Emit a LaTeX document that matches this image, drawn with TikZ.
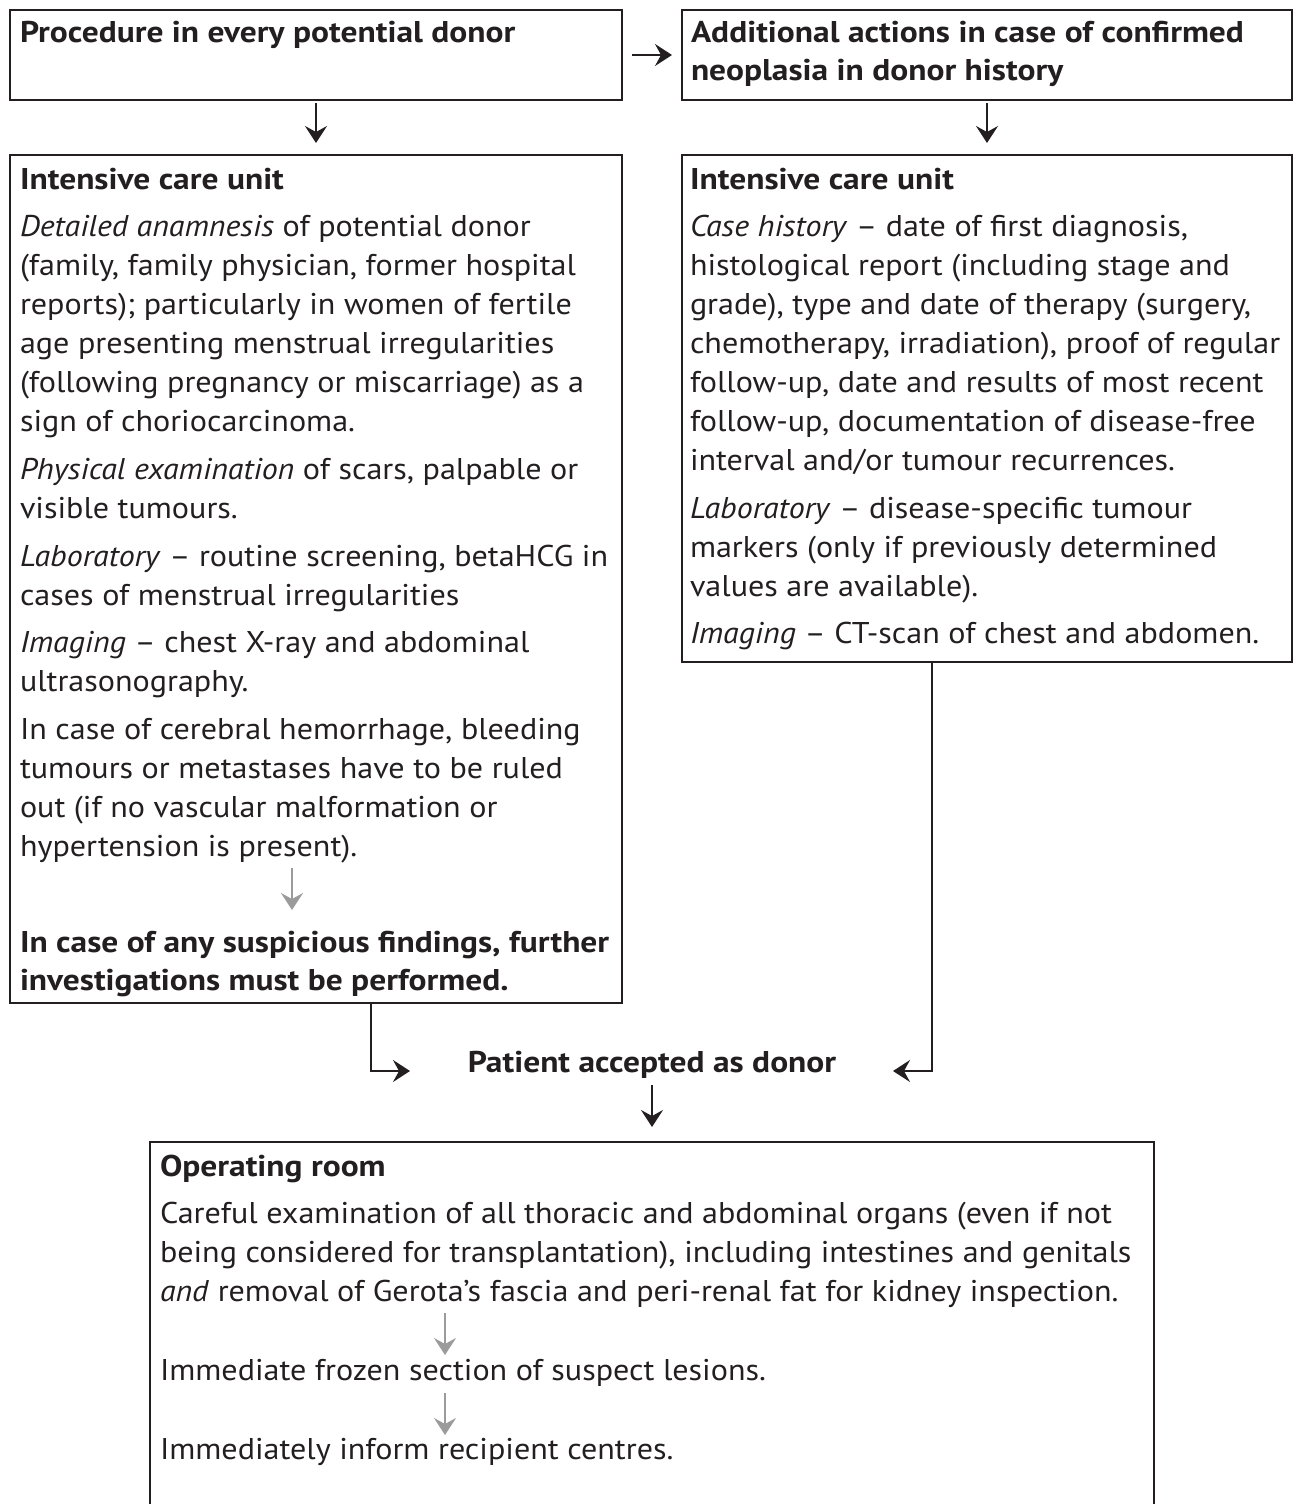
\documentclass[tikz,border=0pt]{standalone}
\usepackage{fontspec}
\setmainfont{PT Sans}[
  UprightFeatures={FakeStretch=1.07},
  ItalicFeatures={FakeStretch=1.065},
  BoldFeatures={FakeStretch=1.115}]
\usetikzlibrary{arrows.meta}
\definecolor{ink}{HTML}{231F20}
\definecolor{soft}{HTML}{9B9B9B}
% invisible rule giving every first line the same height above its baseline
\newcommand{\firstline}{\rule{0pt}{27pt}}
\begin{document}
\begin{tikzpicture}[x=1pt,y=-1pt,
  frame/.style={draw=ink, line width=2pt, anchor=north west, inner sep=0pt, outer sep=0pt},
  txt/.style={anchor=north west, inner sep=0pt, outer sep=0pt, align=left, text=ink,
    yshift=27pt, font=\fontsize{30}{39}\selectfont},
  head/.style={txt, font=\fontsize{30}{38}\selectfont\bfseries},
  arr/.style={draw=ink, line width=1.8pt, -{Stealth[length=17pt,width=22pt,inset=6pt]}},
  garr/.style={arr, draw=soft}]
\useasboundingbox (0,0) rectangle (1293,1504);
\clip (0,0) rectangle (1293,1504);

% frames
\node[frame, minimum width=612pt, minimum height=90pt]  (top1) at (10,10) {};
\node[frame, minimum width=610pt, minimum height=90pt]  (top2) at (682,10) {};
\node[frame, minimum width=612pt, minimum height=848pt] (icu1) at (10,155) {};
\node[frame, minimum width=610pt, minimum height=507pt] (icu2) at (682,155) {};
\node[frame, minimum width=1004pt, minimum height=420pt] (orbox) at (150,1142) {};

% top headings
\node[head] (t1) at (20,43) {\firstline Procedure in every potential donor};
\node[head] (t2) at (691,43) {\firstline Additional actions in case of confirmed\\neoplasia in donor history};

% left intensive care unit
\node[head] (h1) at (20,189) {\firstline Intensive care unit};
\node[txt] (l1) at (20,236) {\firstline\textit{Detailed anamnesis} of potential donor\\
(family, family physician, former hospital\\
reports); particularly in women of fertile\\
age presenting menstrual irregularities\\
(following pregnancy or miscarriage) as a\\
sign of choriocarcinoma.};
\node[txt] (l2) at (20,479) {\firstline\textit{Physical examination} of scars, palpable or\\visible tumours.};
\node[txt] (l3) at (20,566) {\firstline\textit{Laboratory} – routine screening, betaHCG in\\cases of menstrual irregularities};
\node[txt] (l4) at (20,652) {\firstline\textit{Imaging} – chest X-ray and abdominal\\ultrasonography.};
\node[txt] (l5) at (20,739) {\firstline In case of cerebral hemorrhage, bleeding\\
tumours or metastases have to be ruled\\
out (if no vascular malformation or\\
hypertension is present).};
\node[head] (l6) at (20,952) {\firstline In case of any suspicious findings, further\\investigations must be performed.};

% right intensive care unit
\node[head] (h2) at (690,189) {\firstline Intensive care unit};
\node[txt] (r1) at (690,236) {\firstline\textit{Case history} – date of first diagnosis,\\
histological report (including stage and\\
grade), type and date of therapy (surgery,\\
chemotherapy, irradiation), proof of regular\\
follow-up, date and results of most recent\\
follow-up, documentation of disease-free\\
interval and/or tumour recurrences.};
\node[txt] (r2) at (690,518) {\firstline\textit{Laboratory} – disease-specific tumour\\
markers (only if previously determined\\
values are available).};
\node[txt] (r3) at (690,643) {\firstline\textit{Imaging} – CT-scan of chest and abdomen.};

% acceptance
\node[head, anchor=north] (acc) at (652,1072) {\firstline Patient accepted as donor};

% operating room
\node[head] (h3) at (160,1176) {\firstline Operating room};
\node[txt] (o1) at (160,1223) {\firstline Careful examination of all thoracic and abdominal organs (even if not\\
being considered for transplantation), including intestines and genitals\\
\textit{and} removal of Gerota’s fascia and peri-renal fat for kidney inspection.};
\node[txt] (o2) at (160,1380) {\firstline Immediate frozen section of suspect lesions.};
\node[txt] (o3) at (160,1459) {\firstline Immediately inform recipient centres.};

% connector points
\coordinate (lfoot) at (371,1003);
\coordinate (rfoot) at (932,662);
\coordinate (ljoin) at (410,1071);
\coordinate (rjoin) at (893,1071);
\coordinate (ga) at (292,868);
\coordinate (gb) at (292,910);
\coordinate (oa) at (445,1313);
\coordinate (ob) at (445,1355);
\coordinate (oc) at (445,1393);
\coordinate (od) at (445,1435);

% connectors
\draw[arr, shorten <=10pt, shorten >=10pt] (top1) -- (top2);
\draw[arr, shorten <=3pt, shorten >=12pt] (top1.south) -- (icu1.north);
\draw[arr, shorten <=3pt, shorten >=12pt] (top2.south) -- (icu2.north);
\draw[arr] (lfoot) |- (ljoin);
\draw[arr] (rfoot) |- (rjoin);
\draw[arr, shorten <=13pt, shorten >=15pt] (acc.south |- 0,1072) -- (acc.south |- orbox.north);
\draw[garr] (ga) -- (gb);
\draw[garr] (oa) -- (ob);
\draw[garr] (oc) -- (od);
\end{tikzpicture}
\end{document}
